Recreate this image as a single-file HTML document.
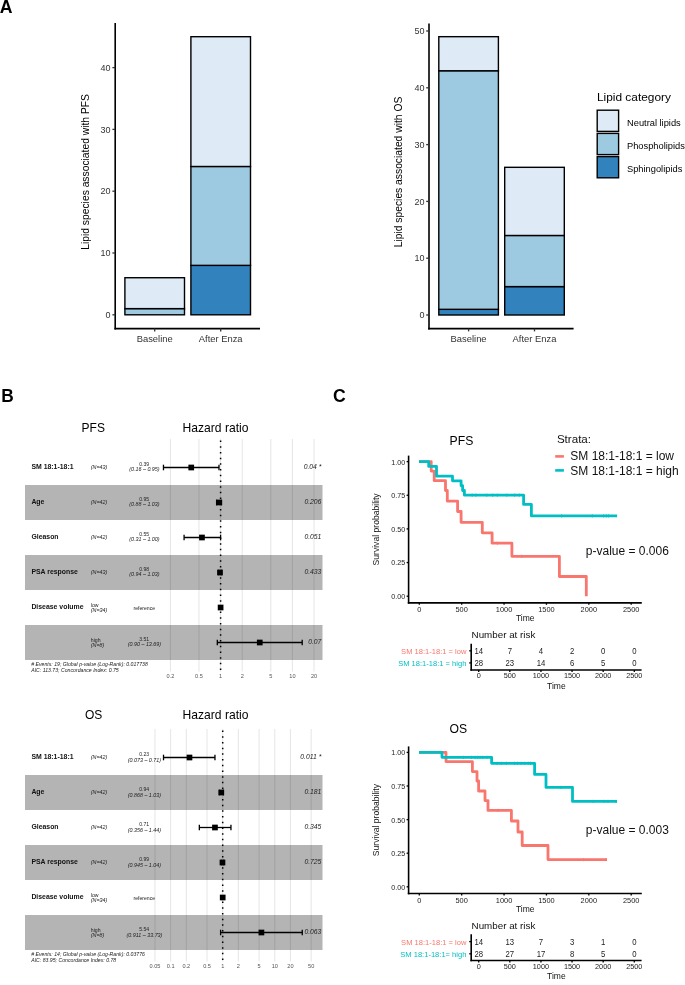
<!DOCTYPE html>
<html><head><meta charset="utf-8"><style>
html,body{margin:0;padding:0;background:#fff;width:685px;height:985px;overflow:hidden}
svg{display:block;will-change:transform}
text{font-family:"Liberation Sans", sans-serif}
</style></head><body>
<svg width="685" height="985" viewBox="0 0 685 985">
<rect width="685" height="985" fill="#fff"/>
<text transform="translate(-0.20,13.30) scale(0.950,1)" font-size="18.6" font-weight="bold" fill="#000">A</text>
<rect x="124.90" y="308.62" width="59.60" height="6.18" fill="#9ECAE1" stroke="#000" stroke-width="1.4"/>
<rect x="124.90" y="277.72" width="59.60" height="30.90" fill="#DEEBF7" stroke="#000" stroke-width="1.4"/>
<rect x="190.90" y="265.36" width="59.60" height="49.44" fill="#3182BD" stroke="#000" stroke-width="1.4"/>
<rect x="190.90" y="166.48" width="59.60" height="98.88" fill="#9ECAE1" stroke="#000" stroke-width="1.4"/>
<rect x="190.90" y="36.70" width="59.60" height="129.78" fill="#DEEBF7" stroke="#000" stroke-width="1.4"/>
<line x1="115.20" y1="23.00" x2="115.20" y2="329.40" stroke="#000" stroke-width="1.6"/>
<line x1="114.40" y1="328.60" x2="260.00" y2="328.60" stroke="#000" stroke-width="1.6"/>
<line x1="112.40" y1="314.80" x2="115.20" y2="314.80" stroke="#333" stroke-width="1.3"/>
<text x="110.60" y="318.00" font-size="9" text-anchor="end" fill="#333">0</text>
<line x1="112.40" y1="253.00" x2="115.20" y2="253.00" stroke="#333" stroke-width="1.3"/>
<text x="110.60" y="256.20" font-size="9" text-anchor="end" fill="#333">10</text>
<line x1="112.40" y1="191.20" x2="115.20" y2="191.20" stroke="#333" stroke-width="1.3"/>
<text x="110.60" y="194.40" font-size="9" text-anchor="end" fill="#333">20</text>
<line x1="112.40" y1="129.40" x2="115.20" y2="129.40" stroke="#333" stroke-width="1.3"/>
<text x="110.60" y="132.60" font-size="9" text-anchor="end" fill="#333">30</text>
<line x1="112.40" y1="67.60" x2="115.20" y2="67.60" stroke="#333" stroke-width="1.3"/>
<text x="110.60" y="70.80" font-size="9" text-anchor="end" fill="#333">40</text>
<line x1="154.70" y1="328.60" x2="154.70" y2="331.40" stroke="#333" stroke-width="1.3"/>
<text x="154.70" y="342.20" font-size="9.4" text-anchor="middle" fill="#333">Baseline</text>
<line x1="220.70" y1="328.60" x2="220.70" y2="331.40" stroke="#333" stroke-width="1.3"/>
<text x="220.70" y="342.20" font-size="9.4" text-anchor="middle" fill="#333">After Enza</text>
<text transform="translate(88.50,171.90) rotate(-90)" font-size="10.3" text-anchor="middle" fill="#000">Lipid species associated with PFS</text>
<rect x="438.80" y="309.32" width="59.60" height="5.68" fill="#3182BD" stroke="#000" stroke-width="1.4"/>
<rect x="438.80" y="70.76" width="59.60" height="238.56" fill="#9ECAE1" stroke="#000" stroke-width="1.4"/>
<rect x="438.80" y="36.68" width="59.60" height="34.08" fill="#DEEBF7" stroke="#000" stroke-width="1.4"/>
<rect x="504.70" y="286.60" width="59.60" height="28.40" fill="#3182BD" stroke="#000" stroke-width="1.4"/>
<rect x="504.70" y="235.48" width="59.60" height="51.12" fill="#9ECAE1" stroke="#000" stroke-width="1.4"/>
<rect x="504.70" y="167.32" width="59.60" height="68.16" fill="#DEEBF7" stroke="#000" stroke-width="1.4"/>
<line x1="429.00" y1="23.40" x2="429.00" y2="329.40" stroke="#000" stroke-width="1.6"/>
<line x1="428.20" y1="328.60" x2="573.60" y2="328.60" stroke="#000" stroke-width="1.6"/>
<line x1="426.20" y1="315.00" x2="429.00" y2="315.00" stroke="#333" stroke-width="1.3"/>
<text x="424.40" y="318.20" font-size="9" text-anchor="end" fill="#333">0</text>
<line x1="426.20" y1="258.20" x2="429.00" y2="258.20" stroke="#333" stroke-width="1.3"/>
<text x="424.40" y="261.40" font-size="9" text-anchor="end" fill="#333">10</text>
<line x1="426.20" y1="201.40" x2="429.00" y2="201.40" stroke="#333" stroke-width="1.3"/>
<text x="424.40" y="204.60" font-size="9" text-anchor="end" fill="#333">20</text>
<line x1="426.20" y1="144.60" x2="429.00" y2="144.60" stroke="#333" stroke-width="1.3"/>
<text x="424.40" y="147.80" font-size="9" text-anchor="end" fill="#333">30</text>
<line x1="426.20" y1="87.80" x2="429.00" y2="87.80" stroke="#333" stroke-width="1.3"/>
<text x="424.40" y="91.00" font-size="9" text-anchor="end" fill="#333">40</text>
<line x1="426.20" y1="31.00" x2="429.00" y2="31.00" stroke="#333" stroke-width="1.3"/>
<text x="424.40" y="34.20" font-size="9" text-anchor="end" fill="#333">50</text>
<line x1="468.60" y1="328.60" x2="468.60" y2="331.40" stroke="#333" stroke-width="1.3"/>
<text x="468.60" y="342.20" font-size="9.4" text-anchor="middle" fill="#333">Baseline</text>
<line x1="534.50" y1="328.60" x2="534.50" y2="331.40" stroke="#333" stroke-width="1.3"/>
<text x="534.50" y="342.20" font-size="9.4" text-anchor="middle" fill="#333">After Enza</text>
<text transform="translate(402.00,172.00) rotate(-90)" font-size="10.3" text-anchor="middle" fill="#000">Lipid species associated with OS</text>
<text transform="translate(596.90,100.70) scale(1.045,1)" font-size="11.4" fill="#000">Lipid category</text>
<rect x="597.20" y="110.20" width="21.40" height="21.20" fill="#DEEBF7" stroke="#000" stroke-width="1.4"/>
<text x="627.00" y="125.70" font-size="9.3" fill="#000">Neutral lipids</text>
<rect x="597.20" y="133.40" width="21.40" height="21.20" fill="#9ECAE1" stroke="#000" stroke-width="1.4"/>
<text x="627.00" y="148.90" font-size="9.3" fill="#000">Phospholipids</text>
<rect x="597.20" y="156.60" width="21.40" height="21.20" fill="#3182BD" stroke="#000" stroke-width="1.4"/>
<text x="627.00" y="172.10" font-size="9.3" fill="#000">Sphingolipids</text>
<text transform="translate(1.20,402.20) scale(0.930,1)" font-size="18.6" font-weight="bold" fill="#000">B</text>
<text transform="translate(333.00,402.20) scale(0.950,1)" font-size="18.6" font-weight="bold" fill="#000">C</text>
<text x="81.60" y="432.00" font-size="12.0" fill="#000">PFS</text>
<text x="182.60" y="432.00" font-size="12.1" fill="#000">Hazard ratio</text>
<line x1="170.41" y1="439.00" x2="170.41" y2="671.50" stroke="#E2E2E2" stroke-width="0.9"/>
<line x1="198.99" y1="439.00" x2="198.99" y2="671.50" stroke="#E2E2E2" stroke-width="0.9"/>
<line x1="220.60" y1="439.00" x2="220.60" y2="671.50" stroke="#E2E2E2" stroke-width="0.9"/>
<line x1="242.21" y1="439.00" x2="242.21" y2="671.50" stroke="#E2E2E2" stroke-width="0.9"/>
<line x1="270.79" y1="439.00" x2="270.79" y2="671.50" stroke="#E2E2E2" stroke-width="0.9"/>
<line x1="292.40" y1="439.00" x2="292.40" y2="671.50" stroke="#E2E2E2" stroke-width="0.9"/>
<line x1="314.01" y1="439.00" x2="314.01" y2="671.50" stroke="#E2E2E2" stroke-width="0.9"/>
<rect x="25.0" y="485.00" width="297.5" height="35.00" fill="#050005" fill-opacity="0.295"/>
<rect x="25.0" y="555.00" width="297.5" height="35.00" fill="#050005" fill-opacity="0.295"/>
<rect x="25.0" y="625.00" width="297.5" height="35.00" fill="#050005" fill-opacity="0.295"/>
<line x1="220.60" y1="439.00" x2="220.60" y2="671.50" stroke="#000" stroke-width="1.5" stroke-dasharray="1.5 4.20" stroke-dashoffset="4.15"/>
<text x="170.41" y="677.70" font-size="5.6" text-anchor="middle" fill="#555">0.2</text>
<text x="198.99" y="677.70" font-size="5.6" text-anchor="middle" fill="#555">0.5</text>
<text x="220.60" y="677.70" font-size="5.6" text-anchor="middle" fill="#555">1</text>
<text x="242.21" y="677.70" font-size="5.6" text-anchor="middle" fill="#555">2</text>
<text x="270.79" y="677.70" font-size="5.6" text-anchor="middle" fill="#555">5</text>
<text x="292.40" y="677.70" font-size="5.6" text-anchor="middle" fill="#555">10</text>
<text x="314.01" y="677.70" font-size="5.6" text-anchor="middle" fill="#555">20</text>
<text x="31.40" y="468.80" font-size="6.9" font-weight="bold" fill="#111">SM 18:1-18:1</text>
<text transform="translate(90.80,469.30) scale(1.120,1)" font-size="4.8" font-style="italic" fill="#222">(N=43)</text>
<text transform="translate(144.20,465.60) scale(1.050,1)" font-size="4.8" text-anchor="middle" fill="#222">0.39</text>
<text transform="translate(144.40,470.90) scale(1.120,1)" font-size="4.8" text-anchor="middle" font-style="italic" fill="#222">(0.16 –  0.95)</text>
<text x="321.40" y="469.10" font-size="6.8" text-anchor="end" font-style="italic" fill="#222">0.04 *</text>
<line x1="163.46" y1="467.50" x2="219.00" y2="467.50" stroke="#000" stroke-width="1.3"/>
<line x1="163.46" y1="464.70" x2="163.46" y2="470.30" stroke="#000" stroke-width="1.3"/>
<line x1="219.00" y1="464.70" x2="219.00" y2="470.30" stroke="#000" stroke-width="1.3"/>
<rect x="188.39" y="464.65" width="5.70" height="5.70" fill="#000"/>
<text x="31.40" y="503.80" font-size="6.9" font-weight="bold" fill="#111">Age</text>
<text transform="translate(90.80,504.30) scale(1.120,1)" font-size="4.8" font-style="italic" fill="#222">(N=42)</text>
<text transform="translate(144.20,500.60) scale(1.050,1)" font-size="4.8" text-anchor="middle" fill="#222">0.95</text>
<text transform="translate(144.40,505.90) scale(1.120,1)" font-size="4.8" text-anchor="middle" font-style="italic" fill="#222">(0.88 –  1.03)</text>
<text x="321.40" y="504.10" font-size="6.8" text-anchor="end" font-style="italic" fill="#222">0.206</text>
<line x1="216.61" y1="502.50" x2="221.52" y2="502.50" stroke="#000" stroke-width="1.3"/>
<line x1="216.61" y1="499.70" x2="216.61" y2="505.30" stroke="#000" stroke-width="1.3"/>
<line x1="221.52" y1="499.70" x2="221.52" y2="505.30" stroke="#000" stroke-width="1.3"/>
<rect x="216.15" y="499.65" width="5.70" height="5.70" fill="#000"/>
<text x="31.40" y="538.80" font-size="6.9" font-weight="bold" fill="#111">Gleason</text>
<text transform="translate(90.80,539.30) scale(1.120,1)" font-size="4.8" font-style="italic" fill="#222">(N=42)</text>
<text transform="translate(144.20,535.60) scale(1.050,1)" font-size="4.8" text-anchor="middle" fill="#222">0.55</text>
<text transform="translate(144.40,540.90) scale(1.120,1)" font-size="4.8" text-anchor="middle" font-style="italic" fill="#222">(0.31 –  1.00)</text>
<text x="321.40" y="539.10" font-size="6.8" text-anchor="end" font-style="italic" fill="#222">0.051</text>
<line x1="184.08" y1="537.50" x2="220.60" y2="537.50" stroke="#000" stroke-width="1.3"/>
<line x1="184.08" y1="534.70" x2="184.08" y2="540.30" stroke="#000" stroke-width="1.3"/>
<line x1="220.60" y1="534.70" x2="220.60" y2="540.30" stroke="#000" stroke-width="1.3"/>
<rect x="199.11" y="534.65" width="5.70" height="5.70" fill="#000"/>
<text x="31.40" y="573.80" font-size="6.9" font-weight="bold" fill="#111">PSA response</text>
<text transform="translate(90.80,574.30) scale(1.120,1)" font-size="4.8" font-style="italic" fill="#222">(N=43)</text>
<text transform="translate(144.20,570.60) scale(1.050,1)" font-size="4.8" text-anchor="middle" fill="#222">0.98</text>
<text transform="translate(144.40,575.90) scale(1.120,1)" font-size="4.8" text-anchor="middle" font-style="italic" fill="#222">(0.94 –  1.03)</text>
<text x="321.40" y="574.10" font-size="6.8" text-anchor="end" font-style="italic" fill="#222">0.433</text>
<line x1="218.67" y1="572.50" x2="221.52" y2="572.50" stroke="#000" stroke-width="1.3"/>
<line x1="218.67" y1="569.70" x2="218.67" y2="575.30" stroke="#000" stroke-width="1.3"/>
<line x1="221.52" y1="569.70" x2="221.52" y2="575.30" stroke="#000" stroke-width="1.3"/>
<rect x="217.12" y="569.65" width="5.70" height="5.70" fill="#000"/>
<text x="31.40" y="608.80" font-size="6.9" font-weight="bold" fill="#111">Disease volume</text>
<text transform="translate(90.80,606.60) scale(1.120,1)" font-size="4.6" fill="#222">low</text>
<text transform="translate(90.80,611.70) scale(1.120,1)" font-size="4.8" font-style="italic" fill="#222">(N=34)</text>
<text transform="translate(144.30,609.90) scale(1.120,1)" font-size="4.6" text-anchor="middle" fill="#222">reference</text>
<rect x="217.75" y="604.65" width="5.70" height="5.70" fill="#000"/>
<text transform="translate(90.80,641.60) scale(1.120,1)" font-size="4.6" fill="#222">high</text>
<text transform="translate(90.80,646.70) scale(1.120,1)" font-size="4.8" font-style="italic" fill="#222">(N=8)</text>
<text transform="translate(144.20,640.60) scale(1.050,1)" font-size="4.8" text-anchor="middle" fill="#222">3.51</text>
<text transform="translate(144.40,645.90) scale(1.120,1)" font-size="4.8" text-anchor="middle" font-style="italic" fill="#222">(0.90 – 13.69)</text>
<text x="321.40" y="644.10" font-size="6.8" text-anchor="end" font-style="italic" fill="#222">0.07</text>
<line x1="217.31" y1="642.50" x2="302.19" y2="642.50" stroke="#000" stroke-width="1.3"/>
<line x1="217.31" y1="639.70" x2="217.31" y2="645.30" stroke="#000" stroke-width="1.3"/>
<line x1="302.19" y1="639.70" x2="302.19" y2="645.30" stroke="#000" stroke-width="1.3"/>
<rect x="256.90" y="639.65" width="5.70" height="5.70" fill="#000"/>
<text transform="translate(31.20,665.60) scale(1.100,1)" font-size="4.7" font-style="italic" fill="#222"># Events: 19; Global p-value (Log-Rank): 0.017738</text>
<text transform="translate(31.20,672.40) scale(1.100,1)" font-size="4.7" font-style="italic" fill="#222">AIC: 113.73; Concordance Index: 0.75</text>
<text x="85.00" y="718.50" font-size="12.0" fill="#000">OS</text>
<text x="182.60" y="718.50" font-size="12.1" fill="#000">Hazard ratio</text>
<line x1="154.96" y1="729.00" x2="154.96" y2="961.50" stroke="#E2E2E2" stroke-width="0.9"/>
<line x1="170.63" y1="729.00" x2="170.63" y2="961.50" stroke="#E2E2E2" stroke-width="0.9"/>
<line x1="186.30" y1="729.00" x2="186.30" y2="961.50" stroke="#E2E2E2" stroke-width="0.9"/>
<line x1="207.03" y1="729.00" x2="207.03" y2="961.50" stroke="#E2E2E2" stroke-width="0.9"/>
<line x1="222.70" y1="729.00" x2="222.70" y2="961.50" stroke="#E2E2E2" stroke-width="0.9"/>
<line x1="238.37" y1="729.00" x2="238.37" y2="961.50" stroke="#E2E2E2" stroke-width="0.9"/>
<line x1="259.10" y1="729.00" x2="259.10" y2="961.50" stroke="#E2E2E2" stroke-width="0.9"/>
<line x1="274.77" y1="729.00" x2="274.77" y2="961.50" stroke="#E2E2E2" stroke-width="0.9"/>
<line x1="290.44" y1="729.00" x2="290.44" y2="961.50" stroke="#E2E2E2" stroke-width="0.9"/>
<line x1="311.17" y1="729.00" x2="311.17" y2="961.50" stroke="#E2E2E2" stroke-width="0.9"/>
<rect x="25.0" y="775.00" width="297.5" height="35.00" fill="#050005" fill-opacity="0.295"/>
<rect x="25.0" y="845.00" width="297.5" height="35.00" fill="#050005" fill-opacity="0.295"/>
<rect x="25.0" y="915.00" width="297.5" height="35.00" fill="#050005" fill-opacity="0.295"/>
<line x1="222.70" y1="729.00" x2="222.70" y2="961.50" stroke="#000" stroke-width="1.5" stroke-dasharray="1.5 4.20" stroke-dashoffset="4.15"/>
<text x="154.96" y="967.70" font-size="5.6" text-anchor="middle" fill="#555">0.05</text>
<text x="170.63" y="967.70" font-size="5.6" text-anchor="middle" fill="#555">0.1</text>
<text x="186.30" y="967.70" font-size="5.6" text-anchor="middle" fill="#555">0.2</text>
<text x="207.03" y="967.70" font-size="5.6" text-anchor="middle" fill="#555">0.5</text>
<text x="222.70" y="967.70" font-size="5.6" text-anchor="middle" fill="#555">1</text>
<text x="238.37" y="967.70" font-size="5.6" text-anchor="middle" fill="#555">2</text>
<text x="259.10" y="967.70" font-size="5.6" text-anchor="middle" fill="#555">5</text>
<text x="274.77" y="967.70" font-size="5.6" text-anchor="middle" fill="#555">10</text>
<text x="290.44" y="967.70" font-size="5.6" text-anchor="middle" fill="#555">20</text>
<text x="311.17" y="967.70" font-size="5.6" text-anchor="middle" fill="#555">50</text>
<text x="31.40" y="758.80" font-size="6.9" font-weight="bold" fill="#111">SM 18:1-18:1</text>
<text transform="translate(90.80,759.30) scale(1.120,1)" font-size="4.8" font-style="italic" fill="#222">(N=42)</text>
<text transform="translate(144.20,756.20) scale(1.050,1)" font-size="4.8" text-anchor="middle" fill="#222">0.23</text>
<text transform="translate(144.40,761.50) scale(1.120,1)" font-size="4.8" text-anchor="middle" font-style="italic" fill="#222">(0.073 –  0.71)</text>
<text x="321.40" y="759.10" font-size="6.8" text-anchor="end" font-style="italic" fill="#222">0.011 *</text>
<line x1="163.51" y1="757.50" x2="214.96" y2="757.50" stroke="#000" stroke-width="1.3"/>
<line x1="163.51" y1="754.70" x2="163.51" y2="760.30" stroke="#000" stroke-width="1.3"/>
<line x1="214.96" y1="754.70" x2="214.96" y2="760.30" stroke="#000" stroke-width="1.3"/>
<rect x="186.62" y="754.65" width="5.70" height="5.70" fill="#000"/>
<text x="31.40" y="793.80" font-size="6.9" font-weight="bold" fill="#111">Age</text>
<text transform="translate(90.80,794.30) scale(1.120,1)" font-size="4.8" font-style="italic" fill="#222">(N=42)</text>
<text transform="translate(144.20,791.20) scale(1.050,1)" font-size="4.8" text-anchor="middle" fill="#222">0.94</text>
<text transform="translate(144.40,796.50) scale(1.120,1)" font-size="4.8" text-anchor="middle" font-style="italic" fill="#222">(0.868 –  1.03)</text>
<text x="321.40" y="794.10" font-size="6.8" text-anchor="end" font-style="italic" fill="#222">0.181</text>
<line x1="219.50" y1="792.50" x2="223.37" y2="792.50" stroke="#000" stroke-width="1.3"/>
<line x1="219.50" y1="789.70" x2="219.50" y2="795.30" stroke="#000" stroke-width="1.3"/>
<line x1="223.37" y1="789.70" x2="223.37" y2="795.30" stroke="#000" stroke-width="1.3"/>
<rect x="218.45" y="789.65" width="5.70" height="5.70" fill="#000"/>
<text x="31.40" y="828.80" font-size="6.9" font-weight="bold" fill="#111">Gleason</text>
<text transform="translate(90.80,829.30) scale(1.120,1)" font-size="4.8" font-style="italic" fill="#222">(N=42)</text>
<text transform="translate(144.20,826.20) scale(1.050,1)" font-size="4.8" text-anchor="middle" fill="#222">0.71</text>
<text transform="translate(144.40,831.50) scale(1.120,1)" font-size="4.8" text-anchor="middle" font-style="italic" fill="#222">(0.356 –  1.44)</text>
<text x="321.40" y="829.10" font-size="6.8" text-anchor="end" font-style="italic" fill="#222">0.345</text>
<line x1="199.34" y1="827.50" x2="230.95" y2="827.50" stroke="#000" stroke-width="1.3"/>
<line x1="199.34" y1="824.70" x2="199.34" y2="830.30" stroke="#000" stroke-width="1.3"/>
<line x1="230.95" y1="824.70" x2="230.95" y2="830.30" stroke="#000" stroke-width="1.3"/>
<rect x="212.11" y="824.65" width="5.70" height="5.70" fill="#000"/>
<text x="31.40" y="863.80" font-size="6.9" font-weight="bold" fill="#111">PSA response</text>
<text transform="translate(90.80,864.30) scale(1.120,1)" font-size="4.8" font-style="italic" fill="#222">(N=42)</text>
<text transform="translate(144.20,861.20) scale(1.050,1)" font-size="4.8" text-anchor="middle" fill="#222">0.99</text>
<text transform="translate(144.40,866.50) scale(1.120,1)" font-size="4.8" text-anchor="middle" font-style="italic" fill="#222">(0.945 –  1.04)</text>
<text x="321.40" y="864.10" font-size="6.8" text-anchor="end" font-style="italic" fill="#222">0.725</text>
<line x1="221.42" y1="862.50" x2="223.59" y2="862.50" stroke="#000" stroke-width="1.3"/>
<line x1="221.42" y1="859.70" x2="221.42" y2="865.30" stroke="#000" stroke-width="1.3"/>
<line x1="223.59" y1="859.70" x2="223.59" y2="865.30" stroke="#000" stroke-width="1.3"/>
<rect x="219.62" y="859.65" width="5.70" height="5.70" fill="#000"/>
<text x="31.40" y="898.80" font-size="6.9" font-weight="bold" fill="#111">Disease volume</text>
<text transform="translate(90.80,896.60) scale(1.120,1)" font-size="4.6" fill="#222">low</text>
<text transform="translate(90.80,901.70) scale(1.120,1)" font-size="4.8" font-style="italic" fill="#222">(N=34)</text>
<text transform="translate(144.30,899.90) scale(1.120,1)" font-size="4.6" text-anchor="middle" fill="#222">reference</text>
<rect x="219.85" y="894.65" width="5.70" height="5.70" fill="#000"/>
<text transform="translate(90.80,931.60) scale(1.120,1)" font-size="4.6" fill="#222">high</text>
<text transform="translate(90.80,936.70) scale(1.120,1)" font-size="4.8" font-style="italic" fill="#222">(N=8)</text>
<text transform="translate(144.20,931.20) scale(1.050,1)" font-size="4.8" text-anchor="middle" fill="#222">5.54</text>
<text transform="translate(144.40,936.50) scale(1.120,1)" font-size="4.8" text-anchor="middle" font-style="italic" fill="#222">(0.911 – 33.73)</text>
<text x="321.40" y="934.10" font-size="6.8" text-anchor="end" font-style="italic" fill="#222">0.063</text>
<line x1="220.59" y1="932.50" x2="302.26" y2="932.50" stroke="#000" stroke-width="1.3"/>
<line x1="220.59" y1="929.70" x2="220.59" y2="935.30" stroke="#000" stroke-width="1.3"/>
<line x1="302.26" y1="929.70" x2="302.26" y2="935.30" stroke="#000" stroke-width="1.3"/>
<rect x="258.56" y="929.65" width="5.70" height="5.70" fill="#000"/>
<text transform="translate(31.20,955.60) scale(1.100,1)" font-size="4.7" font-style="italic" fill="#222"># Events: 14; Global p-value (Log-Rank): 0.03776</text>
<text transform="translate(31.20,962.40) scale(1.100,1)" font-size="4.7" font-style="italic" fill="#222">AIC: 83.95; Concordance Index: 0.78</text>
<text x="449.60" y="445.00" font-size="12.2" fill="#000">PFS</text>
<path d="M419.00,461.60 H431.20 V471.10 H434.20 V480.70 H445.50 V490.50 H447.30 V501.10 H457.60 V511.50 H461.10 V522.30 H482.30 V532.80 H492.10 V543.20 H511.90 V556.30 H559.40 V576.50 H586.30 V596.20" fill="none" stroke="#F8766D" stroke-width="2.8" stroke-linejoin="round" stroke-linecap="butt"/>
<path d="M419.00,461.60 H428.70 V466.40 H436.50 V476.20 H452.50 V480.80 H461.10 V485.70 H462.60 V490.50 H464.40 V495.20 H523.60 V504.40 H531.40 V515.90 H617.10" fill="none" stroke="#00BFC4" stroke-width="2.8" stroke-linejoin="round" stroke-linecap="butt"/>
<line x1="497.30" y1="541.60" x2="497.30" y2="544.80" stroke="#F8766D" stroke-width="0.8"/>
<line x1="521.70" y1="554.70" x2="521.70" y2="557.90" stroke="#F8766D" stroke-width="0.8"/>
<line x1="472.20" y1="493.60" x2="472.20" y2="496.80" stroke="#00BFC4" stroke-width="0.8"/>
<line x1="475.90" y1="493.60" x2="475.90" y2="496.80" stroke="#00BFC4" stroke-width="0.8"/>
<line x1="486.80" y1="493.60" x2="486.80" y2="496.80" stroke="#00BFC4" stroke-width="0.8"/>
<line x1="492.70" y1="493.60" x2="492.70" y2="496.80" stroke="#00BFC4" stroke-width="0.8"/>
<line x1="497.30" y1="493.60" x2="497.30" y2="496.80" stroke="#00BFC4" stroke-width="0.8"/>
<line x1="506.80" y1="493.60" x2="506.80" y2="496.80" stroke="#00BFC4" stroke-width="0.8"/>
<line x1="514.60" y1="493.60" x2="514.60" y2="496.80" stroke="#00BFC4" stroke-width="0.8"/>
<line x1="519.20" y1="493.60" x2="519.20" y2="496.80" stroke="#00BFC4" stroke-width="0.8"/>
<line x1="561.60" y1="514.30" x2="561.60" y2="517.50" stroke="#00BFC4" stroke-width="0.8"/>
<line x1="592.30" y1="514.30" x2="592.30" y2="517.50" stroke="#00BFC4" stroke-width="0.8"/>
<line x1="603.50" y1="514.30" x2="603.50" y2="517.50" stroke="#00BFC4" stroke-width="0.8"/>
<line x1="606.40" y1="514.30" x2="606.40" y2="517.50" stroke="#00BFC4" stroke-width="0.8"/>
<line x1="608.60" y1="514.30" x2="608.60" y2="517.50" stroke="#00BFC4" stroke-width="0.8"/>
<line x1="408.60" y1="455.60" x2="408.60" y2="603.60" stroke="#000" stroke-width="1.6"/>
<line x1="407.80" y1="602.80" x2="641.80" y2="602.80" stroke="#000" stroke-width="1.7"/>
<line x1="406.60" y1="596.20" x2="408.60" y2="596.20" stroke="#000" stroke-width="1.3"/>
<text transform="translate(405.20,599.10) scale(0.970,1)" font-size="7.4" text-anchor="end" fill="#222">0.00</text>
<line x1="406.60" y1="562.55" x2="408.60" y2="562.55" stroke="#000" stroke-width="1.3"/>
<text transform="translate(405.20,565.45) scale(0.970,1)" font-size="7.4" text-anchor="end" fill="#222">0.25</text>
<line x1="406.60" y1="528.90" x2="408.60" y2="528.90" stroke="#000" stroke-width="1.3"/>
<text transform="translate(405.20,531.80) scale(0.970,1)" font-size="7.4" text-anchor="end" fill="#222">0.50</text>
<line x1="406.60" y1="495.25" x2="408.60" y2="495.25" stroke="#000" stroke-width="1.3"/>
<text transform="translate(405.20,498.15) scale(0.970,1)" font-size="7.4" text-anchor="end" fill="#222">0.75</text>
<line x1="406.60" y1="461.60" x2="408.60" y2="461.60" stroke="#000" stroke-width="1.3"/>
<text transform="translate(405.20,464.50) scale(0.970,1)" font-size="7.4" text-anchor="end" fill="#222">1.00</text>
<line x1="419.30" y1="602.80" x2="419.30" y2="604.80" stroke="#000" stroke-width="1.3"/>
<text x="419.30" y="612.00" font-size="7.4" text-anchor="middle" fill="#222">0</text>
<line x1="461.68" y1="602.80" x2="461.68" y2="604.80" stroke="#000" stroke-width="1.3"/>
<text x="461.68" y="612.00" font-size="7.4" text-anchor="middle" fill="#222">500</text>
<line x1="504.06" y1="602.80" x2="504.06" y2="604.80" stroke="#000" stroke-width="1.3"/>
<text x="504.06" y="612.00" font-size="7.4" text-anchor="middle" fill="#222">1000</text>
<line x1="546.44" y1="602.80" x2="546.44" y2="604.80" stroke="#000" stroke-width="1.3"/>
<text x="546.44" y="612.00" font-size="7.4" text-anchor="middle" fill="#222">1500</text>
<line x1="588.82" y1="602.80" x2="588.82" y2="604.80" stroke="#000" stroke-width="1.3"/>
<text x="588.82" y="612.00" font-size="7.4" text-anchor="middle" fill="#222">2000</text>
<line x1="631.20" y1="602.80" x2="631.20" y2="604.80" stroke="#000" stroke-width="1.3"/>
<text x="631.20" y="612.00" font-size="7.4" text-anchor="middle" fill="#222">2500</text>
<text x="525.20" y="621.40" font-size="8.5" text-anchor="middle" fill="#111">Time</text>
<text transform="translate(379.00,529.40) rotate(-90)" font-size="8.6" text-anchor="middle" fill="#111">Survival probability</text>
<text x="585.80" y="554.50" font-size="12.0" fill="#111">p-value = 0.006</text>
<text x="471.60" y="637.50" font-size="9.8" fill="#111">Number at risk</text>
<line x1="471.20" y1="643.70" x2="471.20" y2="670.80" stroke="#000" stroke-width="1.6"/>
<line x1="470.40" y1="670.00" x2="641.60" y2="670.00" stroke="#000" stroke-width="1.6"/>
<text transform="translate(466.40,653.70) scale(1.050,1)" font-size="7.2" text-anchor="end" fill="#F8766D">SM 18:1-18:1 = low</text>
<line x1="469.20" y1="650.80" x2="471.20" y2="650.80" stroke="#000" stroke-width="1.3"/>
<text transform="translate(478.70,653.70) scale(0.900,1)" font-size="8.6" text-anchor="middle" fill="#222">14</text>
<text transform="translate(509.82,653.70) scale(0.900,1)" font-size="8.6" text-anchor="middle" fill="#222">7</text>
<text transform="translate(540.94,653.70) scale(0.900,1)" font-size="8.6" text-anchor="middle" fill="#222">4</text>
<text transform="translate(572.06,653.70) scale(0.900,1)" font-size="8.6" text-anchor="middle" fill="#222">2</text>
<text transform="translate(603.18,653.70) scale(0.900,1)" font-size="8.6" text-anchor="middle" fill="#222">0</text>
<text transform="translate(634.30,653.70) scale(0.900,1)" font-size="8.6" text-anchor="middle" fill="#222">0</text>
<text transform="translate(466.40,665.80) scale(1.050,1)" font-size="7.2" text-anchor="end" fill="#00BFC4">SM 18:1-18:1 = high</text>
<line x1="469.20" y1="662.90" x2="471.20" y2="662.90" stroke="#000" stroke-width="1.3"/>
<text transform="translate(478.70,665.80) scale(0.900,1)" font-size="8.6" text-anchor="middle" fill="#222">28</text>
<text transform="translate(509.82,665.80) scale(0.900,1)" font-size="8.6" text-anchor="middle" fill="#222">23</text>
<text transform="translate(540.94,665.80) scale(0.900,1)" font-size="8.6" text-anchor="middle" fill="#222">14</text>
<text transform="translate(572.06,665.80) scale(0.900,1)" font-size="8.6" text-anchor="middle" fill="#222">6</text>
<text transform="translate(603.18,665.80) scale(0.900,1)" font-size="8.6" text-anchor="middle" fill="#222">5</text>
<text transform="translate(634.30,665.80) scale(0.900,1)" font-size="8.6" text-anchor="middle" fill="#222">0</text>
<line x1="478.70" y1="670.00" x2="478.70" y2="672.00" stroke="#000" stroke-width="1.3"/>
<text x="478.70" y="678.20" font-size="7.3" text-anchor="middle" fill="#222">0</text>
<line x1="509.82" y1="670.00" x2="509.82" y2="672.00" stroke="#000" stroke-width="1.3"/>
<text x="509.82" y="678.20" font-size="7.3" text-anchor="middle" fill="#222">500</text>
<line x1="540.94" y1="670.00" x2="540.94" y2="672.00" stroke="#000" stroke-width="1.3"/>
<text x="540.94" y="678.20" font-size="7.3" text-anchor="middle" fill="#222">1000</text>
<line x1="572.06" y1="670.00" x2="572.06" y2="672.00" stroke="#000" stroke-width="1.3"/>
<text x="572.06" y="678.20" font-size="7.3" text-anchor="middle" fill="#222">1500</text>
<line x1="603.18" y1="670.00" x2="603.18" y2="672.00" stroke="#000" stroke-width="1.3"/>
<text x="603.18" y="678.20" font-size="7.3" text-anchor="middle" fill="#222">2000</text>
<line x1="634.30" y1="670.00" x2="634.30" y2="672.00" stroke="#000" stroke-width="1.3"/>
<text x="634.30" y="678.20" font-size="7.3" text-anchor="middle" fill="#222">2500</text>
<text x="556.40" y="688.50" font-size="8.5" text-anchor="middle" fill="#111">Time</text>
<text x="556.90" y="443.30" font-size="11.6" fill="#111">Strata:</text>
<line x1="555.20" y1="456.40" x2="563.90" y2="456.40" stroke="#F8766D" stroke-width="2.6"/>
<line x1="555.20" y1="470.40" x2="563.90" y2="470.40" stroke="#00BFC4" stroke-width="2.6"/>
<text x="570.30" y="460.30" font-size="12.0" fill="#111">SM 18:1-18:1 = low</text>
<text x="570.30" y="474.70" font-size="12.0" fill="#111">SM 18:1-18:1 = high</text>
<text x="449.60" y="733.40" font-size="12.2" fill="#000">OS</text>
<path d="M419.00,752.40 H446.00 V761.60 H472.40 V771.60 H477.00 V781.00 H478.60 V791.00 H485.00 V800.60 H488.00 V810.40 H511.40 V821.00 H518.00 V832.00 H522.20 V845.50 H548.00 V859.60 H607.00" fill="none" stroke="#F8766D" stroke-width="2.8" stroke-linejoin="round" stroke-linecap="butt"/>
<path d="M419.00,752.40 H442.00 V757.30 H491.60 V763.30 H534.60 V774.40 H546.00 V787.40 H572.50 V801.40 H617.00" fill="none" stroke="#00BFC4" stroke-width="2.8" stroke-linejoin="round" stroke-linecap="butt"/>
<line x1="498.00" y1="808.80" x2="498.00" y2="812.00" stroke="#F8766D" stroke-width="0.8"/>
<line x1="583.60" y1="858.00" x2="583.60" y2="861.20" stroke="#F8766D" stroke-width="0.8"/>
<line x1="606.00" y1="858.00" x2="606.00" y2="861.20" stroke="#F8766D" stroke-width="0.8"/>
<line x1="463.40" y1="755.70" x2="463.40" y2="758.90" stroke="#00BFC4" stroke-width="0.8"/>
<line x1="471.40" y1="755.70" x2="471.40" y2="758.90" stroke="#00BFC4" stroke-width="0.8"/>
<line x1="475.00" y1="755.70" x2="475.00" y2="758.90" stroke="#00BFC4" stroke-width="0.8"/>
<line x1="477.70" y1="755.70" x2="477.70" y2="758.90" stroke="#00BFC4" stroke-width="0.8"/>
<line x1="480.10" y1="755.70" x2="480.10" y2="758.90" stroke="#00BFC4" stroke-width="0.8"/>
<line x1="482.80" y1="755.70" x2="482.80" y2="758.90" stroke="#00BFC4" stroke-width="0.8"/>
<line x1="487.00" y1="755.70" x2="487.00" y2="758.90" stroke="#00BFC4" stroke-width="0.8"/>
<line x1="497.00" y1="761.70" x2="497.00" y2="764.90" stroke="#00BFC4" stroke-width="0.8"/>
<line x1="501.30" y1="761.70" x2="501.30" y2="764.90" stroke="#00BFC4" stroke-width="0.8"/>
<line x1="506.40" y1="761.70" x2="506.40" y2="764.90" stroke="#00BFC4" stroke-width="0.8"/>
<line x1="514.50" y1="761.70" x2="514.50" y2="764.90" stroke="#00BFC4" stroke-width="0.8"/>
<line x1="517.40" y1="761.70" x2="517.40" y2="764.90" stroke="#00BFC4" stroke-width="0.8"/>
<line x1="521.00" y1="761.70" x2="521.00" y2="764.90" stroke="#00BFC4" stroke-width="0.8"/>
<line x1="524.70" y1="761.70" x2="524.70" y2="764.90" stroke="#00BFC4" stroke-width="0.8"/>
<line x1="528.30" y1="761.70" x2="528.30" y2="764.90" stroke="#00BFC4" stroke-width="0.8"/>
<line x1="530.50" y1="761.70" x2="530.50" y2="764.90" stroke="#00BFC4" stroke-width="0.8"/>
<line x1="561.00" y1="785.80" x2="561.00" y2="789.00" stroke="#00BFC4" stroke-width="0.8"/>
<line x1="593.00" y1="799.80" x2="593.00" y2="803.00" stroke="#00BFC4" stroke-width="0.8"/>
<line x1="604.00" y1="799.80" x2="604.00" y2="803.00" stroke="#00BFC4" stroke-width="0.8"/>
<line x1="608.00" y1="799.80" x2="608.00" y2="803.00" stroke="#00BFC4" stroke-width="0.8"/>
<line x1="616.00" y1="799.80" x2="616.00" y2="803.00" stroke="#00BFC4" stroke-width="0.8"/>
<line x1="408.60" y1="746.40" x2="408.60" y2="894.30" stroke="#000" stroke-width="1.6"/>
<line x1="407.80" y1="893.50" x2="641.80" y2="893.50" stroke="#000" stroke-width="1.7"/>
<line x1="406.60" y1="886.80" x2="408.60" y2="886.80" stroke="#000" stroke-width="1.3"/>
<text transform="translate(405.20,889.70) scale(0.970,1)" font-size="7.4" text-anchor="end" fill="#222">0.00</text>
<line x1="406.60" y1="853.20" x2="408.60" y2="853.20" stroke="#000" stroke-width="1.3"/>
<text transform="translate(405.20,856.10) scale(0.970,1)" font-size="7.4" text-anchor="end" fill="#222">0.25</text>
<line x1="406.60" y1="819.60" x2="408.60" y2="819.60" stroke="#000" stroke-width="1.3"/>
<text transform="translate(405.20,822.50) scale(0.970,1)" font-size="7.4" text-anchor="end" fill="#222">0.50</text>
<line x1="406.60" y1="786.00" x2="408.60" y2="786.00" stroke="#000" stroke-width="1.3"/>
<text transform="translate(405.20,788.90) scale(0.970,1)" font-size="7.4" text-anchor="end" fill="#222">0.75</text>
<line x1="406.60" y1="752.40" x2="408.60" y2="752.40" stroke="#000" stroke-width="1.3"/>
<text transform="translate(405.20,755.30) scale(0.970,1)" font-size="7.4" text-anchor="end" fill="#222">1.00</text>
<line x1="419.30" y1="893.50" x2="419.30" y2="895.50" stroke="#000" stroke-width="1.3"/>
<text x="419.30" y="902.70" font-size="7.4" text-anchor="middle" fill="#222">0</text>
<line x1="461.68" y1="893.50" x2="461.68" y2="895.50" stroke="#000" stroke-width="1.3"/>
<text x="461.68" y="902.70" font-size="7.4" text-anchor="middle" fill="#222">500</text>
<line x1="504.06" y1="893.50" x2="504.06" y2="895.50" stroke="#000" stroke-width="1.3"/>
<text x="504.06" y="902.70" font-size="7.4" text-anchor="middle" fill="#222">1000</text>
<line x1="546.44" y1="893.50" x2="546.44" y2="895.50" stroke="#000" stroke-width="1.3"/>
<text x="546.44" y="902.70" font-size="7.4" text-anchor="middle" fill="#222">1500</text>
<line x1="588.82" y1="893.50" x2="588.82" y2="895.50" stroke="#000" stroke-width="1.3"/>
<text x="588.82" y="902.70" font-size="7.4" text-anchor="middle" fill="#222">2000</text>
<line x1="631.20" y1="893.50" x2="631.20" y2="895.50" stroke="#000" stroke-width="1.3"/>
<text x="631.20" y="902.70" font-size="7.4" text-anchor="middle" fill="#222">2500</text>
<text x="525.20" y="912.10" font-size="8.5" text-anchor="middle" fill="#111">Time</text>
<text transform="translate(379.00,820.10) rotate(-90)" font-size="8.6" text-anchor="middle" fill="#111">Survival probability</text>
<text x="585.80" y="834.00" font-size="12.0" fill="#111">p-value = 0.003</text>
<text x="471.60" y="929.00" font-size="9.8" fill="#111">Number at risk</text>
<line x1="471.20" y1="934.20" x2="471.20" y2="961.30" stroke="#000" stroke-width="1.6"/>
<line x1="470.40" y1="960.50" x2="641.60" y2="960.50" stroke="#000" stroke-width="1.6"/>
<text transform="translate(466.40,944.50) scale(1.050,1)" font-size="7.2" text-anchor="end" fill="#F8766D">SM 18:1-18:1 = low</text>
<line x1="469.20" y1="941.60" x2="471.20" y2="941.60" stroke="#000" stroke-width="1.3"/>
<text transform="translate(478.70,944.50) scale(0.900,1)" font-size="8.6" text-anchor="middle" fill="#222">14</text>
<text transform="translate(509.82,944.50) scale(0.900,1)" font-size="8.6" text-anchor="middle" fill="#222">13</text>
<text transform="translate(540.94,944.50) scale(0.900,1)" font-size="8.6" text-anchor="middle" fill="#222">7</text>
<text transform="translate(572.06,944.50) scale(0.900,1)" font-size="8.6" text-anchor="middle" fill="#222">3</text>
<text transform="translate(603.18,944.50) scale(0.900,1)" font-size="8.6" text-anchor="middle" fill="#222">1</text>
<text transform="translate(634.30,944.50) scale(0.900,1)" font-size="8.6" text-anchor="middle" fill="#222">0</text>
<text transform="translate(466.40,956.70) scale(1.050,1)" font-size="7.2" text-anchor="end" fill="#00BFC4">SM 18:1-18:1= high</text>
<line x1="469.20" y1="953.80" x2="471.20" y2="953.80" stroke="#000" stroke-width="1.3"/>
<text transform="translate(478.70,956.70) scale(0.900,1)" font-size="8.6" text-anchor="middle" fill="#222">28</text>
<text transform="translate(509.82,956.70) scale(0.900,1)" font-size="8.6" text-anchor="middle" fill="#222">27</text>
<text transform="translate(540.94,956.70) scale(0.900,1)" font-size="8.6" text-anchor="middle" fill="#222">17</text>
<text transform="translate(572.06,956.70) scale(0.900,1)" font-size="8.6" text-anchor="middle" fill="#222">8</text>
<text transform="translate(603.18,956.70) scale(0.900,1)" font-size="8.6" text-anchor="middle" fill="#222">5</text>
<text transform="translate(634.30,956.70) scale(0.900,1)" font-size="8.6" text-anchor="middle" fill="#222">0</text>
<line x1="478.70" y1="960.50" x2="478.70" y2="962.50" stroke="#000" stroke-width="1.3"/>
<text x="478.70" y="968.70" font-size="7.3" text-anchor="middle" fill="#222">0</text>
<line x1="509.82" y1="960.50" x2="509.82" y2="962.50" stroke="#000" stroke-width="1.3"/>
<text x="509.82" y="968.70" font-size="7.3" text-anchor="middle" fill="#222">500</text>
<line x1="540.94" y1="960.50" x2="540.94" y2="962.50" stroke="#000" stroke-width="1.3"/>
<text x="540.94" y="968.70" font-size="7.3" text-anchor="middle" fill="#222">1000</text>
<line x1="572.06" y1="960.50" x2="572.06" y2="962.50" stroke="#000" stroke-width="1.3"/>
<text x="572.06" y="968.70" font-size="7.3" text-anchor="middle" fill="#222">1500</text>
<line x1="603.18" y1="960.50" x2="603.18" y2="962.50" stroke="#000" stroke-width="1.3"/>
<text x="603.18" y="968.70" font-size="7.3" text-anchor="middle" fill="#222">2000</text>
<line x1="634.30" y1="960.50" x2="634.30" y2="962.50" stroke="#000" stroke-width="1.3"/>
<text x="634.30" y="968.70" font-size="7.3" text-anchor="middle" fill="#222">2500</text>
<text x="556.40" y="979.00" font-size="8.5" text-anchor="middle" fill="#111">Time</text>
</svg>
</body></html>
